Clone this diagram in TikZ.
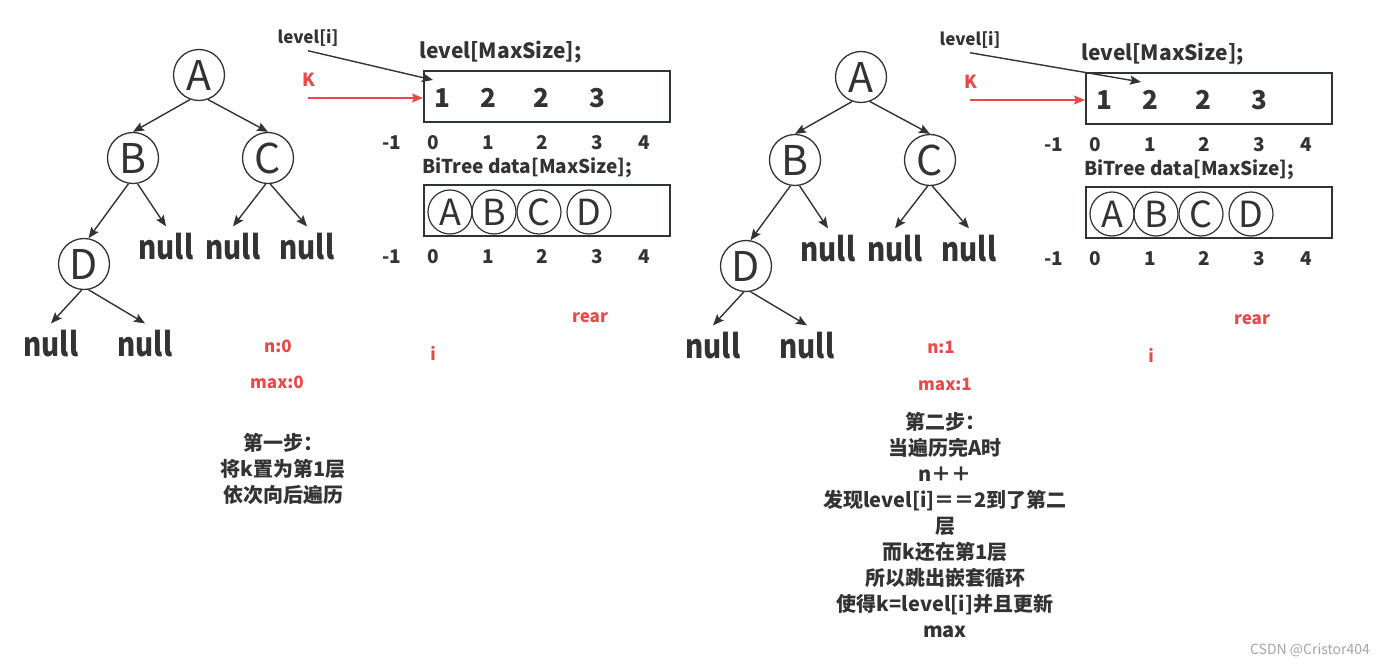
\documentclass[tikz,border=0pt]{standalone}
\usepackage{fontspec}
\setmainfont{Noto Sans CJK SC}
\newfontfamily\narrowfont[FakeStretch=0.84]{Noto Sans CJK SC}
\usepackage{tikz}
\usetikzlibrary{arrows.meta,positioning}
\definecolor{ink}{HTML}{333333}
\definecolor{hot}{HTML}{E84A4A}
\definecolor{frame}{HTML}{2E3436}

\begin{document}
\begin{tikzpicture}[x=1pt, y=-1pt,
    every node/.style={text=ink, inner sep=1pt},
    tn/.style={circle, draw=ink, line width=1.3pt, minimum size=51pt,
               inner sep=0pt, font=\fontsize{41}{41}\selectfont},
    cell/.style={circle, draw=ink, line width=1.2pt, minimum size=44pt,
                 inner sep=0pt, font=\fontsize{36}{36}\selectfont},
    nl/.style={font=\narrowfont\bfseries\fontsize{33}{33}\selectfont,
               inner xsep=0pt, inner ysep=7pt},
    arr/.style={rectangle, draw=frame, line width=1.8pt, anchor=north west,
                minimum width=246pt, minimum height=51pt},
    ttl/.style={font=\bfseries\fontsize{19}{19}\selectfont, anchor=west},
    idx/.style={font=\bfseries\fontsize{19}{19}\selectfont,
                text height=14pt, text depth=0pt},
    val/.style={font=\bfseries\fontsize{26}{26}\selectfont,
                text height=19pt, text depth=0pt},
    ptrl/.style={font=\bfseries\fontsize{17}{17}\selectfont, inner sep=4pt},
    hl/.style={text=hot, font=\bfseries\fontsize{17}{17}\selectfont},
    note/.style={font=\bfseries\fontsize{20}{26}\selectfont, align=center},
    e/.style={draw=ink, line width=1.4pt,
              -{Stealth[length=11pt, width=9pt, inset=2pt]}},
    eh/.style={draw=hot, line width=1.4pt,
               -{Stealth[length=11pt, width=9pt, inset=2pt]}},
  ]
  \useasboundingbox[fill=white] (0,0) rectangle (1393,666);

  % the two steps share tree and arrays
  \foreach \p/\dx/\dy in {L/0/0, R/662/2}{
    \begin{scope}[shift={(\dx,\dy)}, name prefix=\p-]
      \node[tn] (A) at (199,75) {A};
      \node[tn] (B) at (133,158) {B};
      \node[tn] (C) at (268,158) {C};
      \node[tn] (D) at (84,264) {D};
      \node[nl] (n1) at (166,247) {null};
      \node[nl] (n2) at (233,247) {null};
      \node[nl] (n3) at (307,247) {null};
      \node[nl] (n4) at (51,344) {null};
      \node[nl] (n5) at (145,344) {null};
      \draw[e] (A.-110) -- (B.north);
      \draw[e] (A.-70) -- (C.north);
      \draw[e] (B.-100) -- (D.80);
      \draw[e] (B.-80) -- (n1.north);
      \draw[e] (C.-95) -- (n2.north);
      \draw[e] (C.-85) -- (n3.north);
      \draw[e] (D.-95) -- (n4.north);
      \draw[e] (D.-80) -- (n5.north);

      % level[] and data[]
      \node[ttl, font=\bfseries\fontsize{21}{21}\selectfont] (lvname) at (418,52) {level[MaxSize];};
      \node[arr] (lvbox) at (423,70) {};
      \foreach \x/\v in {442/1, 488/2, 541/2, 597/3}
        \node[val] (v\x) at (\x,98) {\v};
      \node[ttl] (dname) at (421,168) {BiTree data[MaxSize];};
      \node[arr] (dbox) at (423,184) {};
      \foreach \x/\c in {450/A, 494/B, 539/C, 589/D}
        \node[cell] (c\c) at (\x,212) {\c};
      \foreach \x/\k in {392/-1, 433/0, 488/1, 542/2, 597/3, 644/4}{
        \node[idx] (ia\x) at (\x,143) {\k};
        \node[idx] (ib\x) at (\x,256) {\k};
      }

      % pointers
      \node[ptrl] (li) at (308,38) {level[i]};
      \node[hl, font=\bfseries\fontsize{18}{18}\selectfont] (kk) at (309,80) {K};
      \coordinate (kfrom) at (308,98);
      \draw[eh] (kfrom) -- (kfrom -| lvbox.west);
      \node[hl] (rear) at (590,318) {rear};
    \end{scope}
  }

  % step 1
  \coordinate (L-ptr) at (433,80);
  \draw[e] (L-li.south) -- (L-ptr);
  \node[hl] (L-n) at (278,346) {n:0};
  \node[hl] (L-max) at (277,382) {max:0};
  \node[hl] (L-i) at (433,353) {i};
  \node[note] (L-note) at (283,469) {第一步：\\将k置为第1层\\依次向后遍历};

  % step 2
  \coordinate (R-ptr) at (1141,82);
  \draw[e] (R-li.south) -- (R-ptr);
  \node[hl] (R-n) at (941,347) {n:1};
  \node[hl] (R-max) at (945,384) {max:1};
  \node[hl] (R-i) at (1151,355) {i};
  \node[note] (R-note) at (945,525) {第二步：\\当遍历完A时\\n＋＋\\发现level[i]＝＝2到了第二\\层\\而k还在第1层\\所以跳出嵌套循环\\使得k=level[i]并且更新\\max};

  \node[text=gray!70, font=\fontsize{14}{14}\selectfont] (wm) at (1310,650) {CSDN @Cristor404};
\end{tikzpicture}
\end{document}
